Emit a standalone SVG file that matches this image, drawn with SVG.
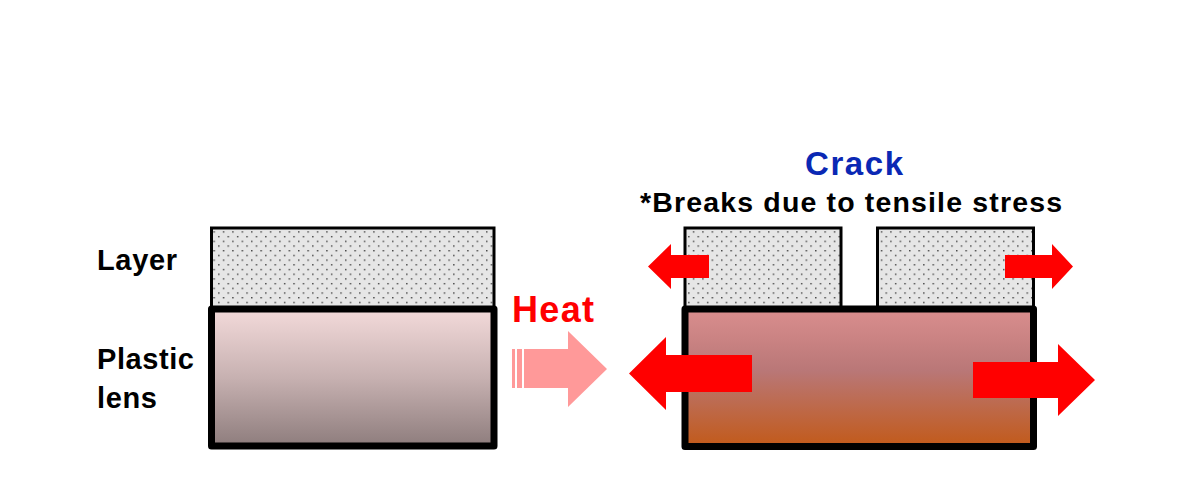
<svg xmlns="http://www.w3.org/2000/svg" width="1200" height="500" viewBox="0 0 1200 500">
  <defs>
    <pattern id="dots" patternUnits="userSpaceOnUse" width="9.4" height="9.4">
      <rect width="9.4" height="9.4" fill="#E6E6E6"/>
      <rect x="2" y="1" width="1.3" height="1.3" fill="#222"/>
      <rect x="6.7" y="5.7" width="1.3" height="1.3" fill="#222"/>
    </pattern>
    <linearGradient id="lensCold" x1="0" y1="0" x2="0" y2="1">
      <stop offset="0" stop-color="#F3DADA"/>
      <stop offset="0.5" stop-color="#C7B1B1"/>
      <stop offset="1" stop-color="#8E7D7D"/>
    </linearGradient>
    <linearGradient id="lensHot" x1="0" y1="0" x2="0" y2="1">
      <stop offset="0" stop-color="#DA8E8E"/>
      <stop offset="0.45" stop-color="#B97777"/>
      <stop offset="1" stop-color="#C25A1A"/>
    </linearGradient>
  </defs>
  <style>
    .layer { fill: url(#dots); stroke: #000; stroke-width: 3; }
    .lens { stroke: #000; stroke-width: 7; stroke-linejoin: round; }
    .red { fill: #FF0000; }
    .lbl { font-family: "Liberation Sans", Arial, sans-serif; font-weight: bold; fill: #000; }
  </style>
  <rect width="1200" height="500" fill="#FFFFFF"/>

  <g id="labels">
    <text class="lbl" x="97" y="270" font-size="29" textLength="80">Layer</text>
    <text class="lbl" x="97" y="369" font-size="29" textLength="97">Plastic</text>
    <text class="lbl" x="97" y="408" font-size="29" textLength="60">lens</text>
  </g>

  <g id="before">
    <rect class="layer" x="211.5" y="228" width="282.5" height="81"/>
    <rect class="lens" x="211.5" y="309" width="282.5" height="137" fill="url(#lensCold)"/>
  </g>

  <g id="heat">
    <text x="512" y="322" font-family="Liberation Sans, Arial, sans-serif" font-weight="bold" font-size="36" fill="#FF0000" textLength="82">Heat</text>
    <rect x="512" y="349" width="3" height="39" fill="#FF9999"/>
    <rect x="517" y="349" width="5" height="39" fill="#FF9999"/>
    <polygon points="524,349 568,349 568,331 607,369 568,407 568,388 524,388" fill="#FF9999"/>
  </g>

  <g id="after">
    <rect class="layer" x="685" y="228" width="156" height="81"/>
    <rect class="layer" x="877.5" y="228" width="156" height="81"/>
    <rect class="lens" x="685" y="309" width="348.5" height="137.5" fill="url(#lensHot)"/>
  </g>

  <g id="connectors">
    <polygon class="red" points="709,255 671,255 671,244 648,266.5 671,289 671,278 709,278"/>
    <polygon class="red" points="1005,255 1052,255 1052,244 1073,266.5 1052,289 1052,278 1005,278"/>
    <polygon class="red" points="752,355 666,355 666,337 629,373.5 666,410 666,392 752,392"/>
    <polygon class="red" points="973,362 1058,362 1058,344 1095,380 1058,416 1058,398 973,398"/>
  </g>

  <g id="crack">
    <text x="805" y="175" font-family="Liberation Sans, Arial, sans-serif" font-weight="bold" font-size="33" fill="#0A28B4" textLength="98">Crack</text>
    <text class="lbl" x="640" y="212" font-size="28.5" textLength="422">*Breaks due to tensile stress</text>
  </g>
</svg>
